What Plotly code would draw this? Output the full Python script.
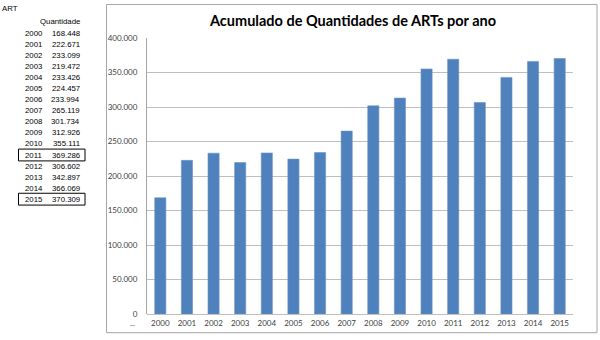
import plotly.graph_objects as go

years = ["2000", "2001", "2002", "2003", "2004", "2005", "2006", "2007",
         "2008", "2009", "2010", "2011", "2012", "2013", "2014", "2015"]
quantities = [168448, 222671, 233099, 219472, 233426, 224457, 233994, 265119,
              301734, 312926, 355111, 369286, 306602, 342897, 366069, 370309]
boxed_years = ["2011", "2015"]
title = "Acumulado de Quantidades de ARTs por ano"
table_title = "ART"
table_header = "Quantidade"

W, H = 600, 340
PL, PR, PT, PB = 147, 573, 38, 318


def px(x):
    return (x - PL) / (PR - PL)


def py(y):
    return (PB - y) / (PB - PT)


def fmt(v):
    return f"{v:,}".replace(",", ".")


def tf():
    return dict(family="Liberation Sans", size=7.8, color="#000000")


fig = go.Figure(go.Bar(
    x=years, y=quantities,
    marker=dict(color="#4F81BD", line=dict(color="#6A96CB", width=0.6)),
    width=0.42,
))

shapes = [
    dict(type="rect", xref="paper", yref="paper",
         x0=px(106.5), x1=px(597), y0=py(337), y1=py(4),
         line=dict(color="#A6A6A6", width=1), layer="below"),
]
annotations = [
    dict(text=f"<b>{title}</b>", xref="paper", yref="paper",
         x=px(352), y=py(20), xanchor="center", yanchor="middle",
         showarrow=False, font=dict(family="Lato", size=14.5, color="#000000")),
    dict(text=table_title, xref="paper", yref="paper", x=px(0), y=py(8),
         xanchor="left", yanchor="middle", showarrow=False, font=tf()),
    dict(text=table_header, xref="paper", yref="paper", x=px(82), y=py(21),
         xanchor="right", yanchor="middle", showarrow=False, font=tf()),
    dict(text="–", xref="paper", yref="paper", x=px(132), y=py(329),
         xanchor="center", yanchor="middle", showarrow=False,
         font=dict(family="Liberation Sans", size=9, color="#7F8FA6")),
]
for i, (yr, q) in enumerate(zip(years, quantities)):
    yy = 33.5 + i * 11.2
    annotations.append(dict(text=yr, xref="paper", yref="paper", x=px(23.5), y=py(yy),
                            xanchor="left", yanchor="middle", showarrow=False, font=tf()))
    annotations.append(dict(text=fmt(q), xref="paper", yref="paper", x=px(82), y=py(yy),
                            xanchor="right", yanchor="middle", showarrow=False, font=tf()))
    if yr in boxed_years:
        shapes.append(dict(type="rect", xref="paper", yref="paper",
                           x0=px(18.5), x1=px(85), y0=py(yy + 6), y1=py(yy - 6),
                           line=dict(color="#000", width=1)))

fig.update_layout(
    width=W, height=H,
    margin=dict(l=PL, r=W - PR, t=PT, b=H - PB),
    paper_bgcolor="white", plot_bgcolor="white",
    separators=",.",
    showlegend=False,
    shapes=shapes,
    annotations=annotations,
    xaxis=dict(type="category", showgrid=False, showline=False, ticks="",
               tickfont=dict(family="Lato", size=8, color="#404040"),
               ticklabelstandoff=3, fixedrange=True),
    yaxis=dict(range=[0, 400000], dtick=50000, tickformat=",d",
               showgrid=True, gridcolor="#BFBFBF", gridwidth=1,
               zeroline=True, zerolinecolor="#BFBFBF", zerolinewidth=1,
               showline=True, linecolor="#A6A6A6", linewidth=1,
               ticks="", tickfont=dict(family="Lato", size=8, color="#404040"),
               ticklabelstandoff=7, fixedrange=True),
)

fig.write_html("out.html")
